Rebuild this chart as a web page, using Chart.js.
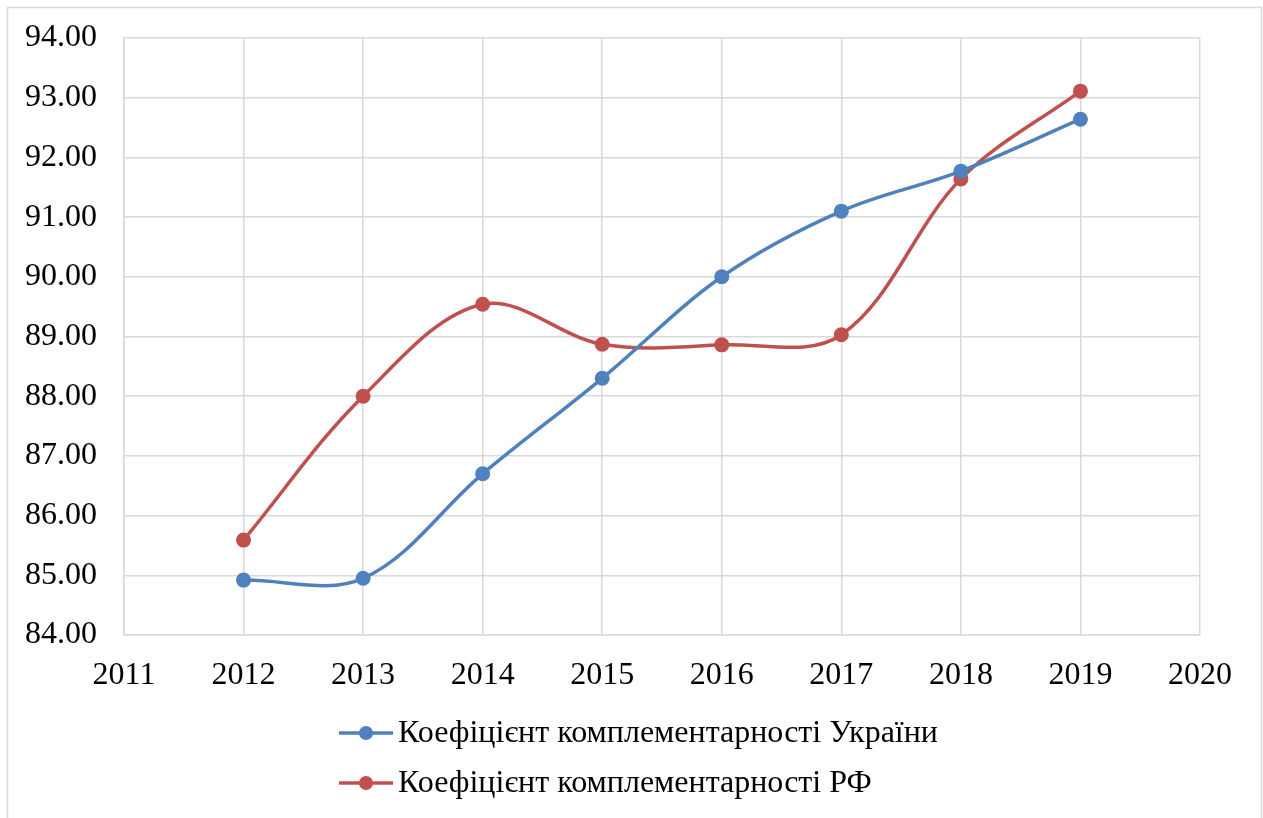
<!DOCTYPE html>
<html>
<head>
<meta charset="utf-8">
<script src="https://cdn.jsdelivr.net/npm/chart.js@4/dist/chart.umd.min.js"></script>
<style>
  html, body { margin: 0; padding: 0; background: #fff; }
  #wrap { width: 1263px; height: 818px; position: relative; }
</style>
</head>
<body>
<div id="wrap"><canvas id="chart" width="1263" height="818"></canvas></div>
<script>
// Data
const years = [2012, 2013, 2014, 2015, 2016, 2017, 2018, 2019];
const ukraineValues = [84.92, 84.95, 86.70, 88.30, 90.00, 91.10, 91.77, 92.64];
const russiaValues = [85.59, 88.00, 89.54, 88.87, 88.86, 89.03, 91.64, 93.11];
const seriesLabels = ['Коефіцієнт комплементарності України', 'Коефіцієнт комплементарності РФ'];
const seriesColors = ['#4f81bd', '#c0504d'];

const fontFamily = "'Liberation Serif', 'Times New Roman', serif";
const fontSize = 32;

function toPoints(values) {
    return years.map((year, i) => ({ x: year, y: values[i] }));
}

// Outer frame around the chart like the spreadsheet chart object
const framePlugin = {
    id: 'frame',
    beforeDraw(chart) {
        const ctx = chart.ctx;
        ctx.save();
        ctx.fillStyle = '#ffffff';
        ctx.fillRect(0, 0, chart.width, chart.height);
        ctx.strokeStyle = '#d9d9d9';
        ctx.lineWidth = 1.5;
        ctx.strokeRect(7.5, 7.5, 1254, 830);
        ctx.restore();
    }
};

// Legend stacked in two rows under the axis
const stackedLegend = {
    id: 'stackedLegend',
    afterDraw(chart) {
        const ctx = chart.ctx;
        const datasets = chart.data.datasets;
        ctx.save();
        ctx.font = fontSize + 'px ' + fontFamily;
        const lineLen = 54;
        const gap = 5;
        const startX = 339;
        const rowY = [733, 783];
        datasets.forEach((ds, i) => {
            const y = rowY[i];
            ctx.strokeStyle = ds.borderColor;
            ctx.lineWidth = 3.5;
            ctx.beginPath();
            ctx.moveTo(startX, y);
            ctx.lineTo(startX + lineLen, y);
            ctx.stroke();
            ctx.fillStyle = ds.borderColor;
            ctx.beginPath();
            ctx.arc(startX + lineLen / 2, y, 7, 0, Math.PI * 2);
            ctx.fill();
            ctx.fillStyle = '#000000';
            ctx.textBaseline = 'middle';
            ctx.textAlign = 'left';
            ctx.fillText(ds.label, startX + lineLen + gap, y + 1);
        });
        ctx.restore();
    }
};

const datasets = [ukraineValues, russiaValues].map((values, i) => ({
    label: seriesLabels[i],
    data: toPoints(values),
    borderColor: seriesColors[i],
    backgroundColor: seriesColors[i],
    borderWidth: 3.5,
    pointRadius: 7.5,
    pointHoverRadius: 7.5,
    pointBorderWidth: 0,
    tension: 0.35,
    fill: false
}));

new Chart(document.getElementById('chart').getContext('2d'), {
    type: 'line',
    data: { datasets: datasets },
    options: {
        responsive: false,
        animation: false,
        layout: {
            padding: { top: 38, right: 63, bottom: 123, left: 0 }
        },
        scales: {
            x: {
                type: 'linear',
                min: 2011,
                max: 2020,
                ticks: {
                    stepSize: 1,
                    color: '#000000',
                    padding: 21,
                    font: { family: fontFamily, size: fontSize },
                    callback: value => String(value)
                },
                grid: { color: '#d9d9d9', lineWidth: 1.5, drawTicks: false },
                border: { color: '#d9d9d9', width: 1.5 },
                afterFit(scale) { scale.height = 60; }
            },
            y: {
                min: 84,
                max: 94,
                ticks: {
                    stepSize: 1,
                    color: '#000000',
                    padding: 27,
                    font: { family: fontFamily, size: fontSize },
                    callback: value => Number(value).toFixed(2)
                },
                grid: { color: '#d9d9d9', lineWidth: 1.5, drawTicks: false },
                border: { color: '#d9d9d9', width: 1.5 },
                afterFit(scale) {
                    scale.width = 124;
                    scale.paddingTop = 0;
                    scale.paddingBottom = 0;
                }
            }
        },
        plugins: {
            legend: { display: false },
            tooltip: { enabled: false }
        }
    },
    plugins: [framePlugin, stackedLegend]
});
</script>
</body>
</html>
